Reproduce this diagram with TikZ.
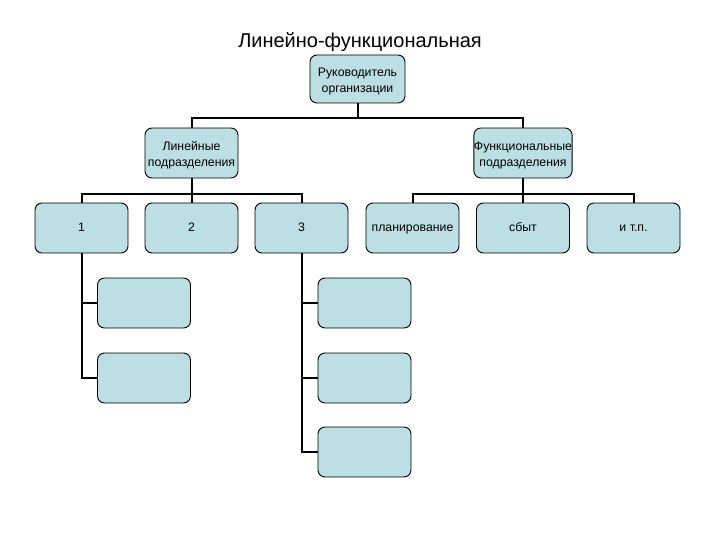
\documentclass[tikz,border=0pt]{standalone}
\usepackage{fontspec}
\setmainfont{Liberation Sans}
\definecolor{boxfill}{RGB}{188,223,227}
\begin{document}
\begin{tikzpicture}[x=1pt,y=-1pt,
  box/.style={draw=black,line width=0.9pt,fill=boxfill,rounded corners=7pt,minimum width=93pt,minimum height=50pt,inner sep=0pt,align=center,font=\fontsize{12.3}{16}\selectfont},
  one/.style={text height=9pt,text depth=3pt},
  two/.style={text height=30pt,text depth=3pt},
  conn/.style={line width=2pt}]
\useasboundingbox (0,0) rectangle (720,540);
\node[font=\fontsize{20}{23}\selectfont] (title) at (360,42) {Линейно-функциональная};
\node[box,two,minimum width=95pt,minimum height=48pt] (top) at (357.5,79) {Руководитель\\организации};
\node[box,two] (lin) at (191.5,153) {Линейные\\подразделения};
\node[box,two] (fun) at (523,153) {Функциональные\\подразделения};
\node[box,one] (b1) at (81.5,228) {1};
\node[box,one] (b2) at (191.5,228) {2};
\node[box,one] (b3) at (301.5,228) {3};
\node[box,one] (b4) at (412.5,228) {планирование};
\node[box,one] (b5) at (523,228) {сбыт};
\node[box,one] (b6) at (633.5,228) {и т.п.};
\node[box] (s11) at (144,303) {};
\node[box] (s12) at (144,378) {};
\node[box] (s31) at (364.5,303) {};
\node[box] (s32) at (364.5,378) {};
\node[box] (s33) at (364.5,452) {};
% top level
\coordinate (h0) at (357.5,118);
\draw[conn] (top.south) -- (h0);
\draw[conn] (lin.north) |- (h0) -| (fun.north);
% linear
\coordinate (h1) at (191.5,194);
\draw[conn] (lin.south) -- (h1);
\draw[conn] (b1.north) |- (h1) -| (b3.north);
\draw[conn] (b2.north) -- (h1);
% functional
\coordinate (h2) at (523,194);
\draw[conn] (fun.south) -- (h2);
\draw[conn] (b4.north) |- (h2) -| (b6.north);
\draw[conn] (b5.north) -- (h2);
% sub 1
\draw[conn] (b1.south) |- (s12.west);
\draw[conn] (b1.south |- s11.west) -- (s11.west);
% sub 3
\draw[conn] (b3.south) |- (s33.west);
\draw[conn] (b3.south |- s31.west) -- (s31.west);
\draw[conn] (b3.south |- s32.west) -- (s32.west);
\end{tikzpicture}
\end{document}
